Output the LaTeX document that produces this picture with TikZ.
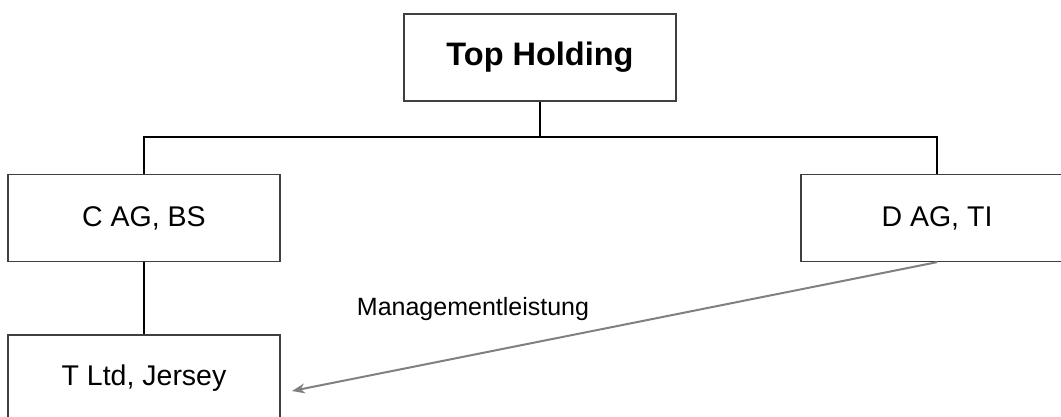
\documentclass[tikz,border=0pt]{standalone}
\usepackage{fontspec}
\setmainfont{Liberation Sans}
\usetikzlibrary{arrows.meta}
\begin{document}
\begin{tikzpicture}[x=1pt,y=-1pt,
  orgbox/.style={draw=black!75, line width=1.3pt, fill=white, minimum width=272pt,
    minimum height=87pt, inner sep=0pt, font=\fontsize{28.5}{32}\selectfont},
  link/.style={draw=black, line width=2pt},
  flow/.style={draw=black!50, line width=2pt, -{Stealth[length=13pt,width=10pt]}}]
  \useasboundingbox (0,0) rectangle (1061,416);
  \clip (0,0) rectangle (1061,416);
  % holding and subsidiaries
  \node[orgbox, font=\fontsize{32.5}{36}\selectfont\bfseries] (top) at (540,57.5) {Top Holding};
  \node[orgbox] (c) at (144,218) {C AG, BS};
  \node[orgbox] (d) at (937,218) {D AG, TI};
  \node[orgbox] (t) at (144,378.5) {T Ltd, Jersey};
  % ownership lines
  \coordinate (bus) at (540,137);
  \draw[link] (top.south) -- (bus) -| (c.north);
  \draw[link] (bus) -| (d.north);
  \draw[link] (c.south) -- (t.north);
  % service flow
  \coordinate (tip) at (292,391);
  \draw[flow] (d.south) -- (tip);
  \node[font=\fontsize{25}{30}\selectfont] (lbl) at (473,309) {Managementleistung};
\end{tikzpicture}
\end{document}
